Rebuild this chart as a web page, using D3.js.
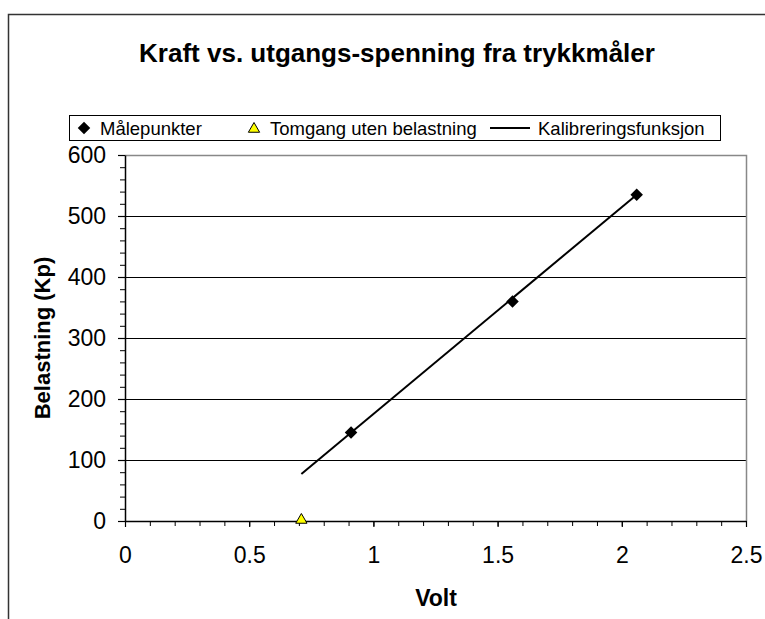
<!DOCTYPE html>
<html>
<head>
<meta charset="utf-8">
<script src="https://cdnjs.cloudflare.com/ajax/libs/d3/7.8.5/d3.min.js"></script>
<style>
body { margin: 0; background: #fff; }
svg text { font-family: Arial, "Liberation Sans", sans-serif; fill: #000; }
</style>
</head>
<body>
<div id="chart"></div>
<script>
var width = 765;
var height = 619;

// data
var maalepunkterX = [0.91, 1.56, 2.06];
var maalepunkterY = [145, 360, 535];
var tomgangX = [0.71];
var tomgangY = [0];
var kalibreringX = [0.71, 2.06];
var kalibreringY = [77, 535];
var xTicks = [0, 0.5, 1, 1.5, 2, 2.5];
var yTicks = [0, 100, 200, 300, 400, 500, 600];

var plot = { left: 125, top: 155, right: 746, bottom: 521 };

var svg = d3.select('#chart')
    .append('svg')
    .attr('width', width)
    .attr('height', height);

svg.append('rect')
    .attr('width', width)
    .attr('height', height)
    .style('fill', 'white');

// outer chart border (runs off the right and bottom edges)
svg.append('rect')
    .attr('x', 8.5)
    .attr('y', 14.5)
    .attr('width', 800)
    .attr('height', 700)
    .style('fill', 'none')
    .style('stroke', '#333')
    .style('stroke-width', 1.5);

var x = d3.scaleLinear().domain([0, 2.5]).range([plot.left, plot.right]);
var y = d3.scaleLinear().domain([0, 600]).range([plot.bottom, plot.top]);

// gridlines
svg.append('g')
    .selectAll('line')
    .data(yTicks.slice(1, -1))
    .enter()
    .append('line')
    .attr('x1', plot.left)
    .attr('x2', plot.right)
    .attr('y1', function (d) { return Math.round(y(d)) + 0.5; })
    .attr('y2', function (d) { return Math.round(y(d)) + 0.5; })
    .style('stroke', '#000')
    .style('stroke-width', 1);

// plot frame top and right
svg.append('path')
    .attr('d', 'M' + plot.left + ',' + (plot.top + 0.5) + 'H' + (plot.right + 0.5) + 'V' + plot.bottom)
    .style('fill', 'none')
    .style('stroke', '#888')
    .style('stroke-width', 1.5);

// minor ticks
var xAxisMinor = d3.axisBottom(x).tickValues(d3.range(0, 26).map(function (i) { return i / 10; }))
    .tickSize(5).tickFormat('');
var yAxisMinor = d3.axisLeft(y).tickValues(d3.range(0, 31).map(function (i) { return i * 20; }))
    .tickSize(5).tickFormat('');

svg.append('g')
    .attr('transform', 'translate(0,' + plot.bottom + ')')
    .call(xAxisMinor)
    .call(function (g) { g.select('.domain').remove(); });
svg.append('g')
    .attr('transform', 'translate(' + plot.left + ',0)')
    .call(yAxisMinor)
    .call(function (g) { g.select('.domain').remove(); });

var xAxis = d3.axisBottom(x).tickValues(xTicks).tickSize(6).tickPadding(20).tickSizeOuter(0)
    .tickFormat(function (d) { return String(d); });
var yAxis = d3.axisLeft(y).tickValues(yTicks).tickSize(7).tickPadding(12).tickSizeOuter(0);

var gx = svg.append('g')
    .attr('transform', 'translate(0,' + plot.bottom + ')')
    .call(xAxis);
var gy = svg.append('g')
    .attr('transform', 'translate(' + plot.left + ',0)')
    .call(yAxis);

[gx, gy].forEach(function (g) {
    g.selectAll('text').style('font-size', '23px').style('font-family', 'Arial, "Liberation Sans", sans-serif');
    g.selectAll('line').style('stroke', '#000').style('stroke-width', 1.2);
    g.select('.domain').style('stroke', '#000').style('stroke-width', 1.5);
});

// calibration line
var line = d3.line()
    .x(function (d) { return x(d[0]); })
    .y(function (d) { return y(d[1]); });
svg.append('path')
    .datum(d3.zip(kalibreringX, kalibreringY))
    .attr('d', line)
    .style('fill', 'none')
    .style('stroke', '#000')
    .style('stroke-width', 2);

var diamond = d3.symbol().type(d3.symbolDiamond2).size(100);
var triangle = d3.symbol().type(d3.symbolTriangle).size(55);

svg.append('g')
    .selectAll('path')
    .data(d3.zip(maalepunkterX, maalepunkterY))
    .enter()
    .append('path')
    .attr('d', diamond)
    .attr('transform', function (d) { return 'translate(' + x(d[0]) + ',' + y(d[1]) + ')'; })
    .style('fill', '#000');

svg.append('g')
    .selectAll('path')
    .data(d3.zip(tomgangX, tomgangY))
    .enter()
    .append('path')
    .attr('d', triangle)
    .attr('transform', function (d) { return 'translate(' + x(d[0]) + ',' + (y(d[1]) - 1) + ')'; })
    .style('fill', '#ffff00')
    .style('stroke', '#000')
    .style('stroke-width', 1);

// title
svg.append('text')
    .attr('x', 397)
    .attr('y', 62)
    .attr('text-anchor', 'middle')
    .style('font-size', '26px')
    .style('font-weight', 'bold')
    .text('Kraft vs. utgangs-spenning fra trykkmåler');

// axis titles
svg.append('text')
    .attr('x', 436)
    .attr('y', 606)
    .attr('text-anchor', 'middle')
    .style('font-size', '23px')
    .style('font-weight', 'bold')
    .text('Volt');

svg.append('text')
    .attr('transform', 'translate(50,338) rotate(-90)')
    .attr('text-anchor', 'middle')
    .style('font-size', '22px')
    .style('font-weight', 'bold')
    .text('Belastning (Kp)');

// legend
var legend = svg.append('g');
legend.append('rect')
    .attr('x', 69.5)
    .attr('y', 115.5)
    .attr('width', 651)
    .attr('height', 25)
    .style('fill', 'white')
    .style('stroke', '#000')
    .style('stroke-width', 1);

legend.append('path')
    .attr('d', diamond)
    .attr('transform', 'translate(84,128)')
    .style('fill', '#000');
legend.append('text').attr('x', 100).attr('y', 135).style('font-size', '18.5px').text('Målepunkter');

legend.append('path')
    .attr('d', triangle)
    .attr('transform', 'translate(254,129)')
    .style('fill', '#ffff00')
    .style('stroke', '#000')
    .style('stroke-width', 1);
legend.append('text').attr('x', 270).attr('y', 135).style('font-size', '18.5px').text('Tomgang uten belastning');

legend.append('line')
    .attr('x1', 490).attr('x2', 530)
    .attr('y1', 128).attr('y2', 128)
    .style('stroke', '#000')
    .style('stroke-width', 2);
legend.append('text').attr('x', 538).attr('y', 135).style('font-size', '18.5px').text('Kalibreringsfunksjon');
</script>
</body>
</html>
